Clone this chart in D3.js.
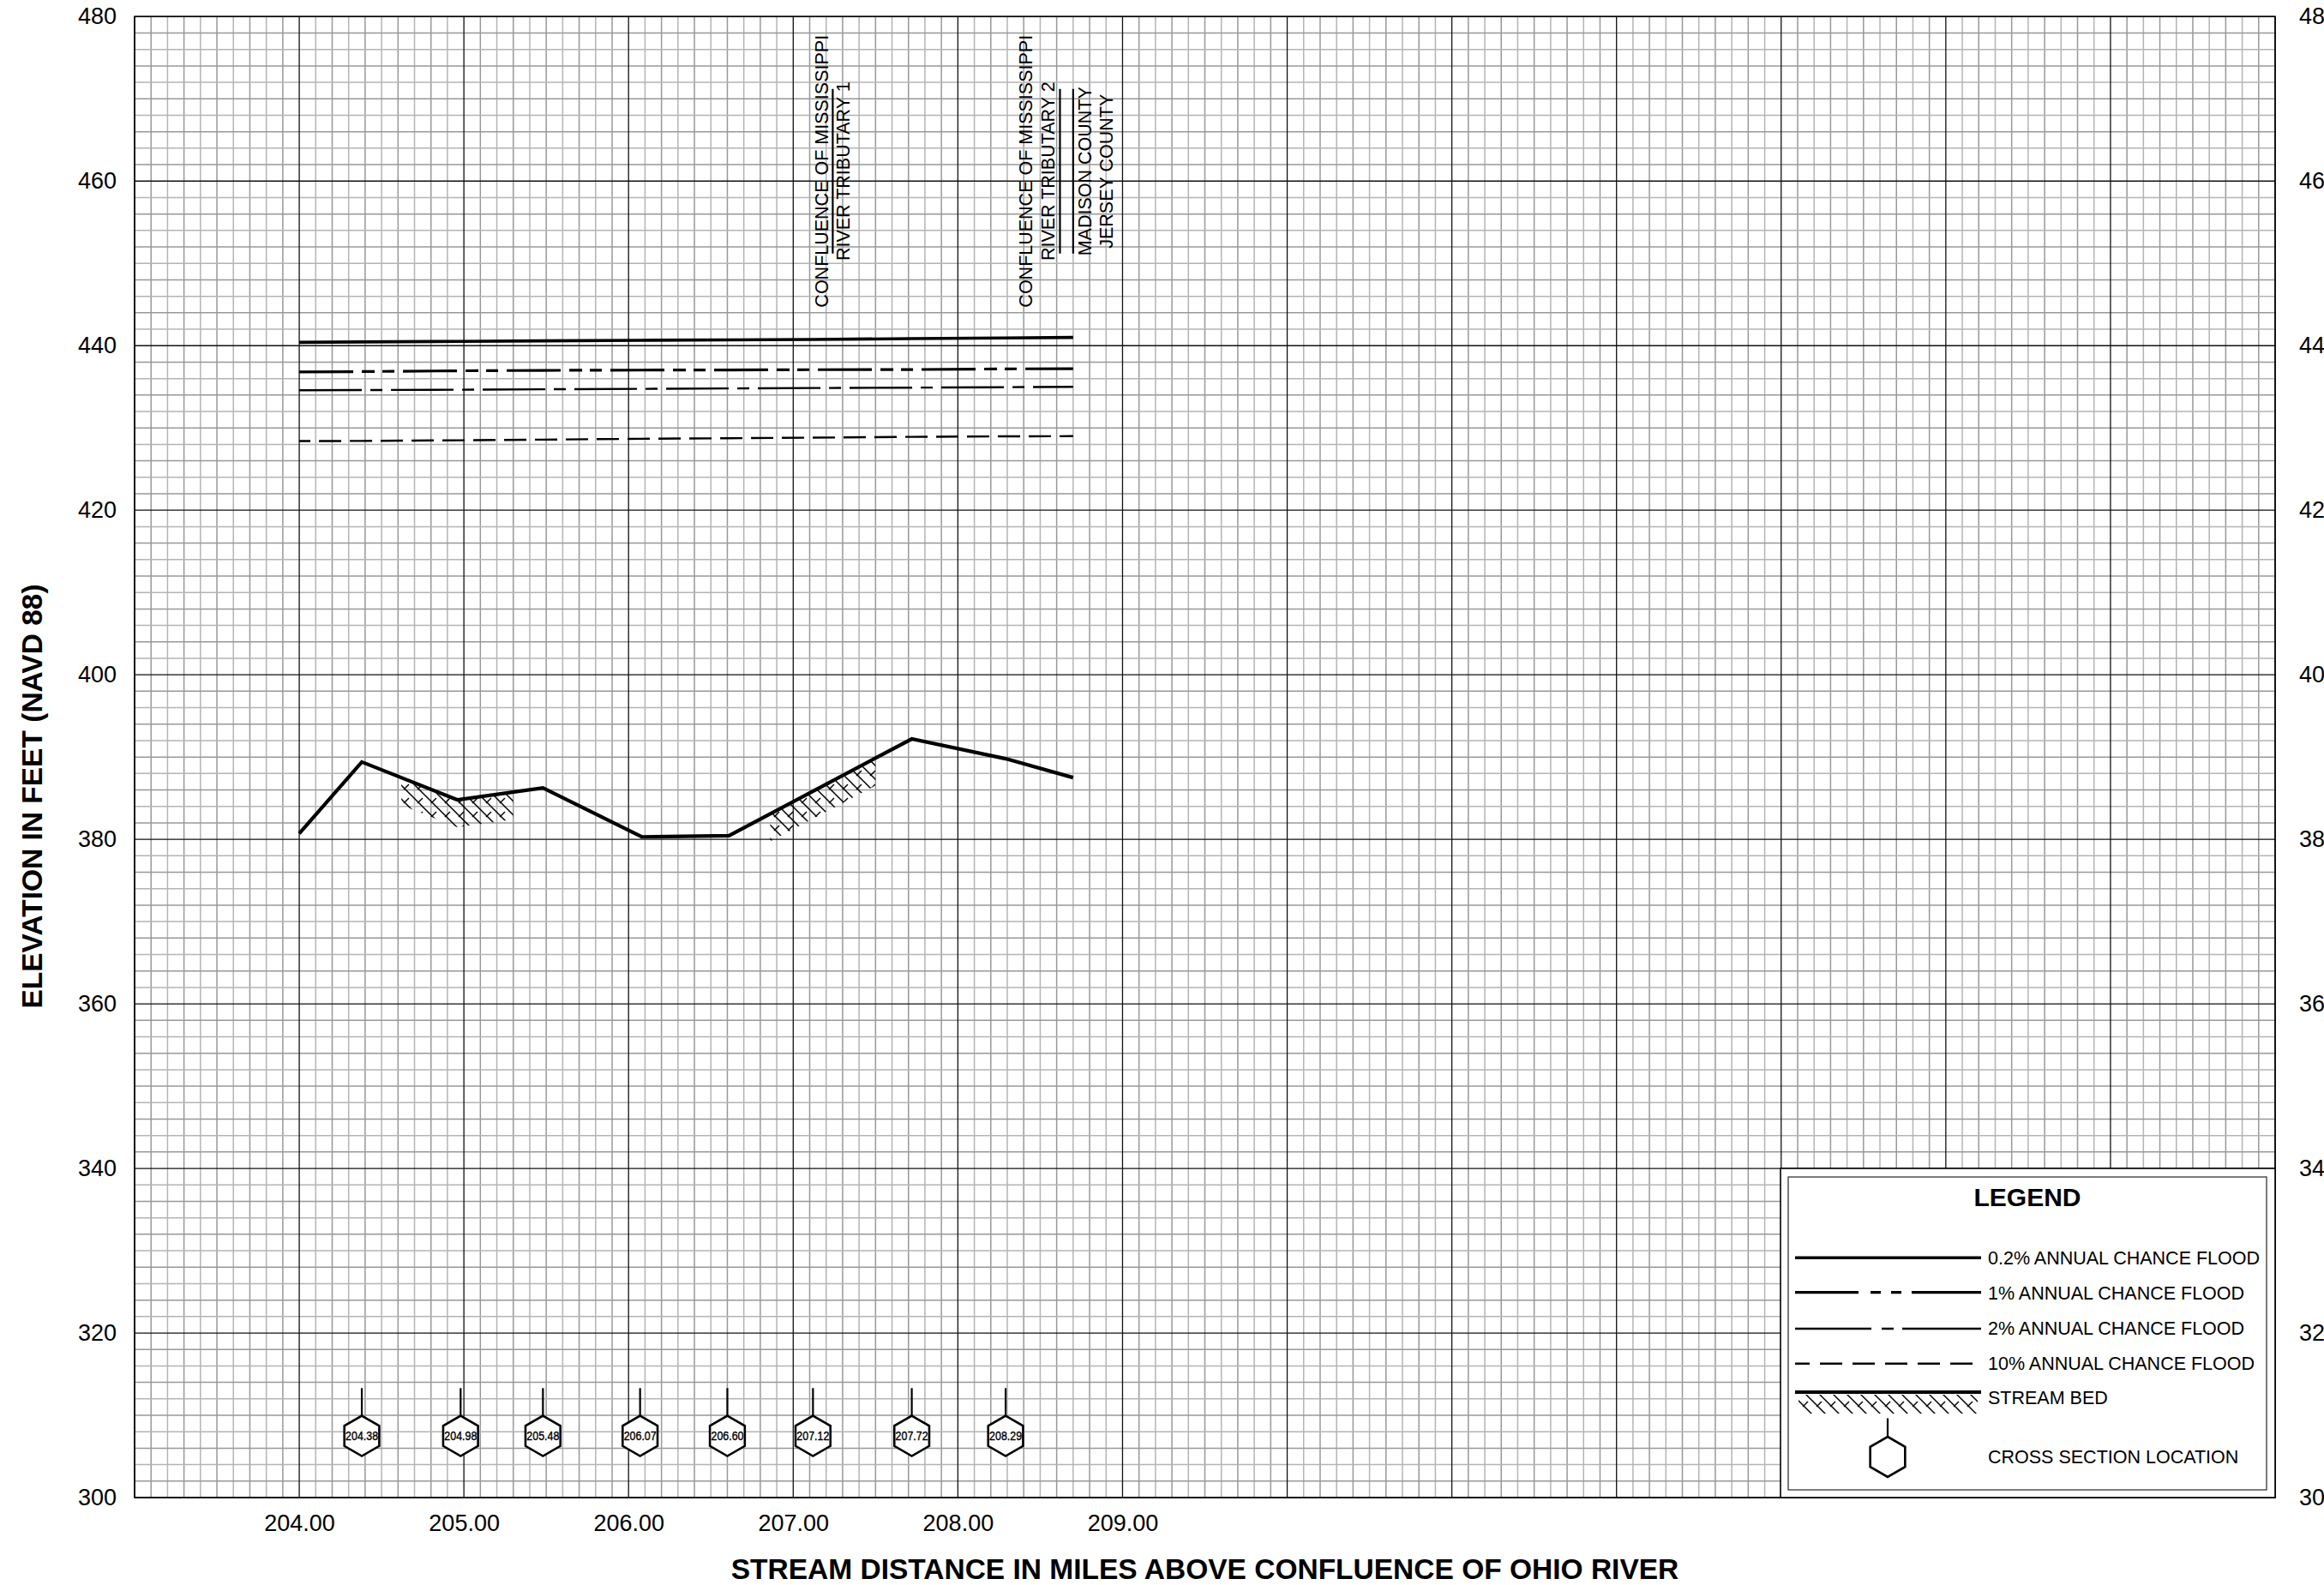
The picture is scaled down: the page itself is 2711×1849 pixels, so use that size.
<!DOCTYPE html>
<html>
<head>
<meta charset="utf-8">
<script src="https://cdn.jsdelivr.net/npm/d3@7"></script>
<style>
  html, body { margin: 0; padding: 0; background: #fff; }
  svg { display: block; font-family: "Liberation Sans", Arial, sans-serif; }
</style>
</head>
<body>
<div id="chart"></div>
<script>
// stations where the flood profiles are read (miles above Ohio River)
const stations = [204.00, 204.38, 204.98, 205.48, 206.07, 206.60, 207.12, 207.72, 208.29, 208.70];
const flood02 = [440.40, 440.45, 440.52, 440.58, 440.65, 440.70, 440.76, 440.85, 440.93, 441.00];
const flood1  = [436.80, 436.85, 436.95, 437.00, 437.03, 437.05, 437.08, 437.10, 437.18, 437.20];
const flood2  = [434.58, 434.60, 434.65, 434.70, 434.75, 434.80, 434.85, 434.90, 434.95, 435.00];
const flood10 = [428.40, 428.42, 428.50, 428.58, 428.68, 428.75, 428.82, 428.92, 428.98, 429.00];

// stream bed
const bedMiles = [204.00, 204.38, 204.96, 205.48, 206.08, 206.61, 207.72, 208.29, 208.70];
const bedElev  = [380.7, 389.4, 384.8, 386.25, 380.3, 380.45, 392.2, 389.8, 387.5];
const hatchRanges = [[204.62, 205.30], [206.86, 207.50]];

// cross sections
const xsMiles  = [204.38, 204.98, 205.48, 206.07, 206.60, 207.12, 207.72, 208.29];
const xsLabels = ["204.38", "204.98", "205.48", "206.07", "206.60", "207.12", "207.72", "208.29"];

// axis ticks
const xTicks = [204, 205, 206, 207, 208, 209];
const yTicks = [300, 320, 340, 360, 380, 400, 420, 440, 460, 480];

// vertical notes on the profile
const noteMiles = [207.24, 208.62, 208.70];
const noteLines = [
  ["CONFLUENCE OF MISSISSIPPI", "RIVER TRIBUTARY 1"],
  ["CONFLUENCE OF MISSISSIPPI", "RIVER TRIBUTARY 2"],
  ["MADISON COUNTY", "JERSEY COUNTY"]
];

const legendLabels = ["0.2% ANNUAL CHANCE FLOOD", "1% ANNUAL CHANCE FLOOD", "2% ANNUAL CHANCE FLOOD",
                      "10% ANNUAL CHANCE FLOOD", "STREAM BED", "CROSS SECTION LOCATION"];

const width = 2711, height = 1849;
const pLeft = 157, pRight = 2654, pTop = 19.3, pBottom = 1747;

let svg = d3.select("#chart").append("svg")
    .attr("width", width)
    .attr("height", height)
    .style("overflow", "hidden");

svg.append("rect").attr("width", width).attr("height", height).attr("fill", "#fff");

let x = d3.scaleLinear().domain([203, 216]).range([pLeft, pRight]);
let y = d3.scaleLinear().domain([300, 480]).range([pBottom, pTop]);

// hatch pattern for stream bed (herringbone)
let defs = svg.append("defs");
let pat = defs.append("pattern")
    .attr("id", "hatch")
    .attr("patternUnits", "userSpaceOnUse")
    .attr("width", 16).attr("height", 16);
pat.append("path").attr("d", "M0,0 L16,16 M-4,12 L4,20 M12,-4 L20,4")
    .attr("stroke", "#000").attr("stroke-width", 1.5);
pat.append("path").attr("d", "M13,3 L7,9")
    .attr("stroke", "#000").attr("stroke-width", 1.5);

let clip = defs.append("clipPath").attr("id", "hatchClip");
hatchRanges.forEach(function(r) {
    clip.append("rect")
        .attr("x", x(r[0])).attr("y", 0)
        .attr("width", x(r[1]) - x(r[0])).attr("height", height);
});

// grid
let grid = svg.append("g");
let minorX = d3.range(0, 131).filter(i => i % 10 != 0).map(i => 203 + i / 10);
let minorY = d3.range(0, 91).filter(i => i % 10 != 0).map(i => 300 + i * 2);
grid.selectAll(".mx").data(minorX).enter().append("line")
    .attr("x1", d => x(d)).attr("x2", d => x(d))
    .attr("y1", pTop).attr("y2", pBottom)
    .attr("stroke", (d, i) => i % 2 ? "#b4b4b4" : "#989898").attr("stroke-width", 1.5);
grid.selectAll(".my").data(minorY).enter().append("line")
    .attr("y1", d => y(d)).attr("y2", d => y(d))
    .attr("x1", pLeft).attr("x2", pRight)
    .attr("stroke", (d, i) => i % 2 ? "#b4b4b4" : "#989898").attr("stroke-width", 1.5);
grid.selectAll(".MX").data(d3.range(203, 217)).enter().append("line")
    .attr("x1", d => x(d)).attr("x2", d => x(d))
    .attr("y1", pTop).attr("y2", pBottom)
    .attr("stroke", "#111").attr("stroke-width", 1.3);
grid.selectAll(".MY").data(yTicks).enter().append("line")
    .attr("y1", d => y(d)).attr("y2", d => y(d))
    .attr("x1", pLeft).attr("x2", pRight)
    .attr("stroke", "#111").attr("stroke-width", 1.3);

// axes
function styleAxis(g) {
    g.select(".domain").remove();
    g.attr("font-size", 27).attr("font-family", "'Liberation Sans', Arial, sans-serif");
    g.selectAll("text").attr("fill", "#000");
}
svg.append("g").attr("transform", "translate(" + pLeft + ",0)")
    .call(d3.axisLeft(y).tickValues(yTicks).tickSize(0).tickPadding(21).tickFormat(d3.format("d")))
    .call(styleAxis);
svg.append("g").attr("transform", "translate(" + pRight + ",0)")
    .call(d3.axisRight(y).tickValues(yTicks).tickSize(0).tickPadding(28).tickFormat(d3.format("d")))
    .call(styleAxis);
svg.append("g").attr("transform", "translate(0," + pBottom + ")")
    .call(d3.axisBottom(x).tickValues(xTicks).tickSize(0).tickPadding(20).tickFormat(d3.format(".2f")))
    .call(styleAxis);

svg.append("text")
    .attr("x", (pLeft + pRight) / 2).attr("y", 1842)
    .attr("text-anchor", "middle")
    .attr("font-size", 33.5).attr("font-weight", "bold")
    .text("STREAM DISTANCE IN MILES ABOVE CONFLUENCE OF OHIO RIVER");
svg.append("text")
    .attr("transform", "translate(49,929) rotate(-90)")
    .attr("text-anchor", "middle")
    .attr("font-size", 33.5).attr("font-weight", "bold")
    .text("ELEVATION IN FEET (NAVD 88)");

// frame
svg.append("rect").attr("x", pLeft).attr("y", pTop)
    .attr("width", pRight - pLeft).attr("height", pBottom - pTop)
    .attr("fill", "none").attr("stroke", "#000").attr("stroke-width", 1.6);

// flood profiles
let line = d3.line().x(d => x(d[0])).y(d => y(d[1]));
const profiles = [
    { v: flood02, w: 3.6, dash: null },
    { v: flood1,  w: 3.2, dash: "63,10,15,9,14,10" },
    { v: flood2,  w: 2.4, dash: "73,10,14,10" },
    { v: flood10, w: 2.4, dash: "26,10", off: 13 }
];
profiles.forEach(function(p) {
    svg.append("path")
        .attr("d", line(stations.map((s, i) => [s, p.v[i]])))
        .attr("fill", "none").attr("stroke", "#000")
        .attr("stroke-width", p.w)
        .attr("stroke-dasharray", p.dash)
        .attr("stroke-dashoffset", p.off || 0);
});

// stream bed hatch and line
let bedData = bedMiles.map((m, i) => [m, bedElev[i]]);
let hatchArea = d3.area().x(d => x(d[0])).y0(d => y(d[1]) + 32).y1(d => y(d[1]) + 2);
svg.append("path")
    .attr("d", hatchArea(bedData))
    .attr("fill", "url(#hatch)")
    .attr("clip-path", "url(#hatchClip)");
svg.append("path")
    .attr("d", line(bedData))
    .attr("fill", "none").attr("stroke", "#000")
    .attr("stroke-width", 4.2).attr("stroke-linejoin", "miter");

// vertical notes
const noteOffsets = [[-5, 20], [-32.7, -6], [21, 45.7]];
let noteY = y(461.2);
noteMiles.forEach(function(m, i) {
    let nx = x(m);
    svg.append("line")
        .attr("x1", nx).attr("x2", nx)
        .attr("y1", noteY - 96).attr("y2", noteY + 96)
        .attr("stroke", "#000").attr("stroke-width", 2.2);
    noteLines[i].forEach(function(t, j) {
        svg.append("text")
            .attr("transform", "translate(" + (nx + noteOffsets[i][j]) + "," + noteY + ") rotate(-90)")
            .attr("text-anchor", "middle")
            .attr("font-size", 21.5)
            .text(t);
    });
});

// cross section markers
function hexPath(r) {
    return d3.range(6).map(function(k) {
        let a = (-90 + k * 60) * Math.PI / 180;
        return (k ? "L" : "M") + (r * Math.cos(a)).toFixed(2) + "," + (r * Math.sin(a)).toFixed(2);
    }).join("") + "Z";
}
let hexR = 23.5;
let markers = svg.selectAll(".xs").data(xsMiles).enter().append("g")
    .attr("transform", d => "translate(" + x(d) + "," + y(307.5) + ")");
markers.append("line")
    .attr("x1", 0).attr("x2", 0)
    .attr("y1", -hexR).attr("y2", y(313.3) - y(307.5))
    .attr("stroke", "#000").attr("stroke-width", 2.2);
markers.append("path")
    .attr("d", hexPath(hexR))
    .attr("fill", "#fff").attr("stroke", "#000").attr("stroke-width", 2.6);
markers.append("text")
    .attr("text-anchor", "middle").attr("dy", "0.36em")
    .attr("font-size", 15)
    .attr("textLength", 38).attr("lengthAdjust", "spacingAndGlyphs")
    .attr("stroke", "#000").attr("stroke-width", 0.4)
    .text((d, i) => xsLabels[i]);

// legend
let lg = svg.append("g");
lg.append("rect").attr("x", 2077).attr("y", 1363)
    .attr("width", pRight - 2077).attr("height", pBottom - 1363)
    .attr("fill", "#fff").attr("stroke", "#000").attr("stroke-width", 1.6);
lg.append("rect").attr("x", 2086).attr("y", 1373)
    .attr("width", 558).attr("height", 365)
    .attr("fill", "none").attr("stroke", "#444").attr("stroke-width", 1.4);
lg.append("text")
    .attr("x", 2365).attr("y", 1406.7)
    .attr("text-anchor", "middle")
    .attr("font-size", 30).attr("font-weight", "bold")
    .text("LEGEND");

const lx1 = 2094, lx2 = 2311;
const legendRows = [
    { y: 1467.3, w: 3.6, dash: null },
    { y: 1507.7, w: 3.2, dash: "74,14,12,12,12,12,100" },
    { y: 1550, w: 2.4, dash: "89,12,14,10,120" },
    { y: 1590.7, w: 2.4, dash: "26,12", off: 9 }
];
legendRows.forEach(function(r) {
    lg.append("line")
        .attr("x1", lx1).attr("x2", lx2).attr("y1", r.y).attr("y2", r.y)
        .attr("stroke", "#000").attr("stroke-width", r.w)
        .attr("stroke-dasharray", r.dash)
        .attr("stroke-dashoffset", r.off || 0);
});
lg.append("rect").attr("x", lx1 + 4).attr("y", 1627)
    .attr("width", lx2 - lx1 - 8).attr("height", 22)
    .attr("fill", "url(#hatch)");
lg.append("line")
    .attr("x1", lx1).attr("x2", lx2).attr("y1", 1624).attr("y2", 1624)
    .attr("stroke", "#000").attr("stroke-width", 4.2);
let lhex = lg.append("g").attr("transform", "translate(2202,1699.5)");
lhex.append("line").attr("x1", 0).attr("x2", 0).attr("y1", -hexR).attr("y2", -45)
    .attr("stroke", "#000").attr("stroke-width", 2.2);
lhex.append("path").attr("d", hexPath(hexR))
    .attr("fill", "#fff").attr("stroke", "#000").attr("stroke-width", 2.6);

const legendTextY = [1475, 1515.7, 1556.7, 1598.3, 1638.3, 1706.7];
lg.selectAll(".lt").data(legendLabels).enter().append("text")
    .attr("x", 2319).attr("y", (d, i) => legendTextY[i])
    .attr("font-size", 21.5)
    .text(d => d);
</script>
</body>
</html>
